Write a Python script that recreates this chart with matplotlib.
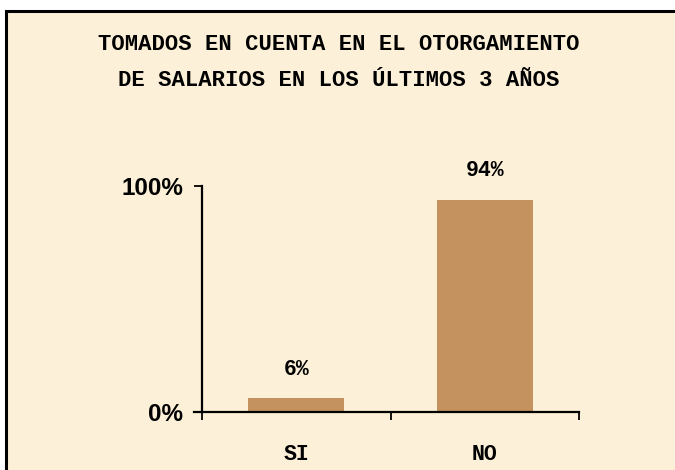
import matplotlib.pyplot as plt
from matplotlib.patches import Rectangle

categories = ['SI', 'NO']
values = [0.06, 0.94]
value_labels = ['6%', '94%']
y_ticks = [0, 1]
y_tick_labels = ['0%', '100%']
title_lines = ['TOMADOS EN CUENTA EN EL OTORGAMIENTO',
               'DE SALARIOS EN LOS ÚLTIMOS 3 AÑOS']

bg = '#FCF1D8'
bar_color = '#C4925E'
mono = ['Liberation Mono', 'DejaVu Sans Mono']
sans = ['Liberation Sans', 'DejaVu Sans']

fig = plt.figure(figsize=(6.75, 4.7), dpi=100)
fig.patch.set_facecolor('white')

# cream panel with black frame (left/top visible, rest runs off the image)
back = fig.add_axes([0, 0, 1, 1], zorder=0)
back.set_axis_off()
back.set_xlim(0, 1)
back.set_ylim(0, 1)
back.add_patch(Rectangle((6 / 675, -0.05), 1.1, (470 - 11) / 470 + 0.05,
                         facecolor=bg, edgecolor='black', linewidth=2.2,
                         clip_on=False))

fig.text(0.502, 1 - 45 / 470, title_lines[0], ha='center', va='center',
         family=mono, fontweight='bold', fontsize=16, zorder=3)
fig.text(0.502, 1 - 81 / 470, title_lines[1], ha='center', va='center',
         family=mono, fontweight='bold', fontsize=16, zorder=3)

ax = fig.add_axes([202 / 675, (470 - 412) / 470, 377 / 675, 226 / 470], zorder=2)
ax.set_facecolor('none')
x = range(len(categories))
ax.bar(x, values, width=0.51, color=bar_color, edgecolor='none')

for xi, v, lab in zip(x, values, value_labels):
    ax.text(xi, v + 0.13, lab, ha='center', va='center', family=mono,
            fontweight='bold', fontsize=15.5)

ax.set_xlim(-0.5, 1.5)
ax.set_ylim(0, 1)
ax.set_yticks(y_ticks)
ax.set_yticklabels(y_tick_labels, family=sans, fontweight='bold', fontsize=17.5)
ax.tick_params(axis='y', length=5.5, width=1.3, pad=8, color='black')

ax.set_xticks([-0.5, 0.5, 1.5])
ax.set_xticklabels([])
ax.tick_params(axis='x', which='major', length=6, width=1.3, color='black')
ax.set_xticks(list(x), minor=True)
ax.set_xticklabels(categories, minor=True, family=mono, fontweight='bold',
                   fontsize=15.5)
ax.tick_params(axis='x', which='minor', length=0, pad=23)

for s in ['top', 'right']:
    ax.spines[s].set_visible(False)
for s in ['left', 'bottom']:
    ax.spines[s].set_linewidth(1.6)
ax.spines['bottom'].set_bounds(-0.5 - 8 / 188.5, 1.5)

fig.savefig('out.png', dpi=100, facecolor='white')
